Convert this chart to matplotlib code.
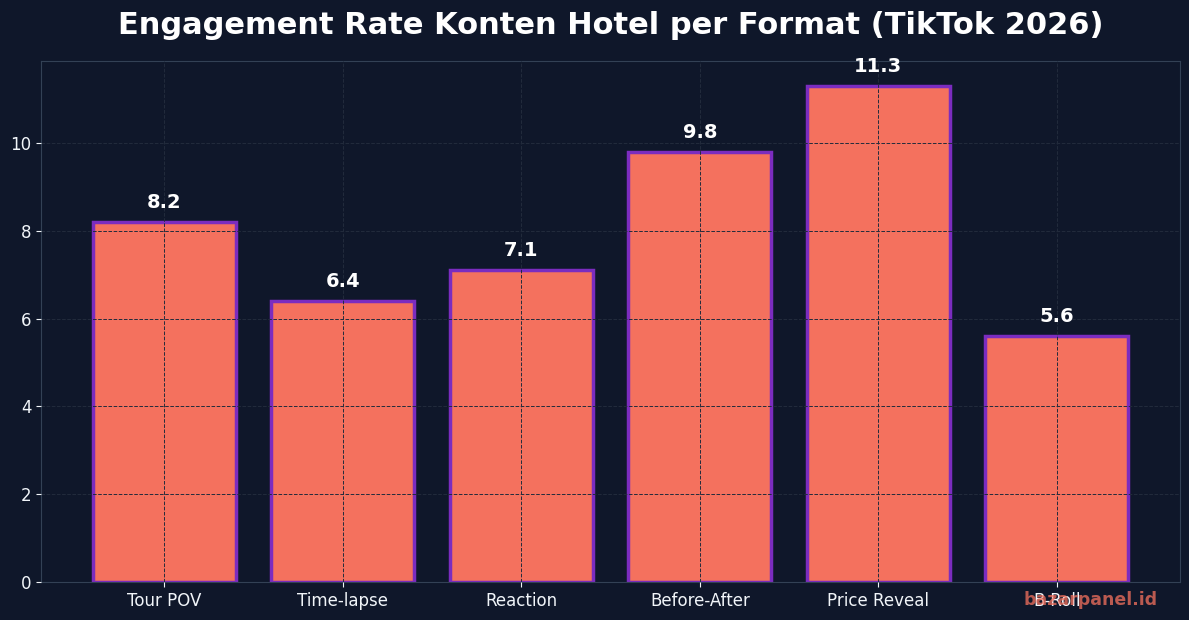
import numpy as np
import matplotlib.pyplot as plt

formats = ['Tour POV', 'Time-lapse', 'Reaction', 'Before-After', 'Price Reveal', 'B-Roll']
engagement = [8.2, 6.4, 7.1, 9.8, 11.3, 5.6]

bg = '#0f172a'
bar_color = '#f4715e'
edge_color = '#7b2cbf'

fig, ax = plt.subplots(figsize=(11.89, 6.2), dpi=100)
fig.patch.set_facecolor(bg)
ax.set_facecolor(bg)

x = np.arange(len(formats))
bars = ax.bar(x, engagement, width=0.8, color=bar_color, edgecolor=edge_color,
              linewidth=2.5, zorder=2)

for xi, v in zip(x, engagement):
    ax.text(xi, v + 0.22, f'{v}', ha='center', va='bottom', color='white',
            fontsize=14, fontweight='bold', zorder=4)

ax.set_xticks(x)
ax.set_xticklabels(formats)
ax.set_ylim(0, max(engagement) * 1.05)
ax.tick_params(colors='#f1f5f9', labelsize=12)

ax.grid(True, linestyle='--', linewidth=0.7, color='#222b3c', zorder=3)
ax.set_axisbelow(False)
for s in ax.spines.values():
    s.set_color('#334155')

ax.set_title('Engagement Rate Konten Hotel per Format (TikTok 2026)',
             color='white', fontsize=22, fontweight='bold', pad=19)

fig.text(0.974, 0.018, 'bazarpanel.id', color=bar_color, alpha=0.75,
         fontsize=12.5, fontweight='bold', ha='right', va='bottom')

plt.subplots_adjust(left=0.0345, right=0.9925, top=0.902, bottom=0.061)
plt.savefig('out.png', dpi=100, facecolor=bg)
